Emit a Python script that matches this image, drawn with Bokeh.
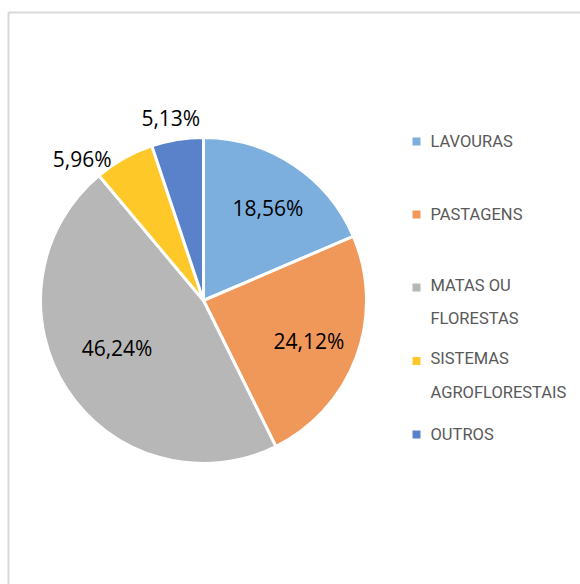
import math
from bokeh.plotting import figure
from bokeh.models import Range1d, ColumnDataSource
from bokeh.core.properties import value
from bokeh.embed import file_html
from bokeh.resources import INLINE

# ---- data ----
categories = ["LAVOURAS", "PASTAGENS", "MATAS OU FLORESTAS", "SISTEMAS AGROFLORESTAIS", "OUTROS"]
legend_labels = ["LAVOURAS", "PASTAGENS", "MATAS OU\nFLORESTAS", "SISTEMAS\nAGROFLORESTAIS", "OUTROS"]
shares = [18.56, 24.12, 46.24, 5.96, 5.13]

# ---- style ----
colors = ["#7CAFDE", "#F0975A", "#B7B7B7", "#FFC829", "#5A82CB"]
label_radius = [108, 108, 108, 185, 185]
label_dx = [5, 4, 4, -31, -3]
label_dy = [-2, 3, -12, 20, 0]
legend_rows_y = [141, 214, 301.5, 375, 434]

W, H = 580, 584
cx, cy, R = 203, -300, 163

p = figure(width=W, height=H, x_range=Range1d(0, W), y_range=Range1d(-H, 0),
           output_backend="svg", toolbar_location=None, min_border=0)
p.axis.visible = False
p.grid.visible = False
p.outline_line_color = None
p.background_fill_color = "white"
p.border_fill_color = "white"

# chart frame border (light gray)
p.quad(left=8, right=900, top=-12, bottom=-900, fill_color=None,
       line_color="#D9D9D9", line_width=2)

total = sum(shares)
starts, ends, lx, ly, texts = [], [], [], [], []
cum = 0.0
for i, v in enumerate(shares):
    a0 = math.pi / 2 - 2 * math.pi * cum / total
    a1 = math.pi / 2 - 2 * math.pi * (cum + v) / total
    mid = math.pi / 2 - 2 * math.pi * (cum + v / 2) / total
    starts.append(a0)
    ends.append(a1)
    lx.append(cx + label_radius[i] * math.cos(mid) + label_dx[i])
    ly.append(cy + label_radius[i] * math.sin(mid) - label_dy[i])
    texts.append(f"{v:.2f}".replace(".", ",") + "%")
    cum += v

src = ColumnDataSource(dict(start=starts, end=ends, color=colors, cat=categories))
p.wedge(x=cx, y=cy, radius=R, start_angle="start", end_angle="end", direction="clock",
        fill_color="color", line_color="white", line_width=3, source=src)

p.text(x=lx, y=ly, text=texts, text_font=value("Open Sans"), text_font_size="21px",
       text_color="#000000", text_align="center", text_baseline="middle")

# legend
line_h = 29
mk_y, tx_y = [], []
for lab, ry in zip(legend_labels, legend_rows_y):
    n = lab.count("\n") + 1
    mk_y.append(-(ry - (n - 1) * line_h / 2))
    tx_y.append(-ry)
p.scatter(x=[416] * len(colors), y=mk_y, marker="square", size=8,
          fill_color=colors, line_color=None)
p.text(x=[430] * len(legend_labels), y=tx_y, text=legend_labels, text_font=value("Roboto"),
       text_font_size="16.5px", text_color="#595959", text_align="left",
       text_baseline="middle", text_line_height=29 / 16.5)

open("out.html", "w").write(file_html(p, INLINE))
